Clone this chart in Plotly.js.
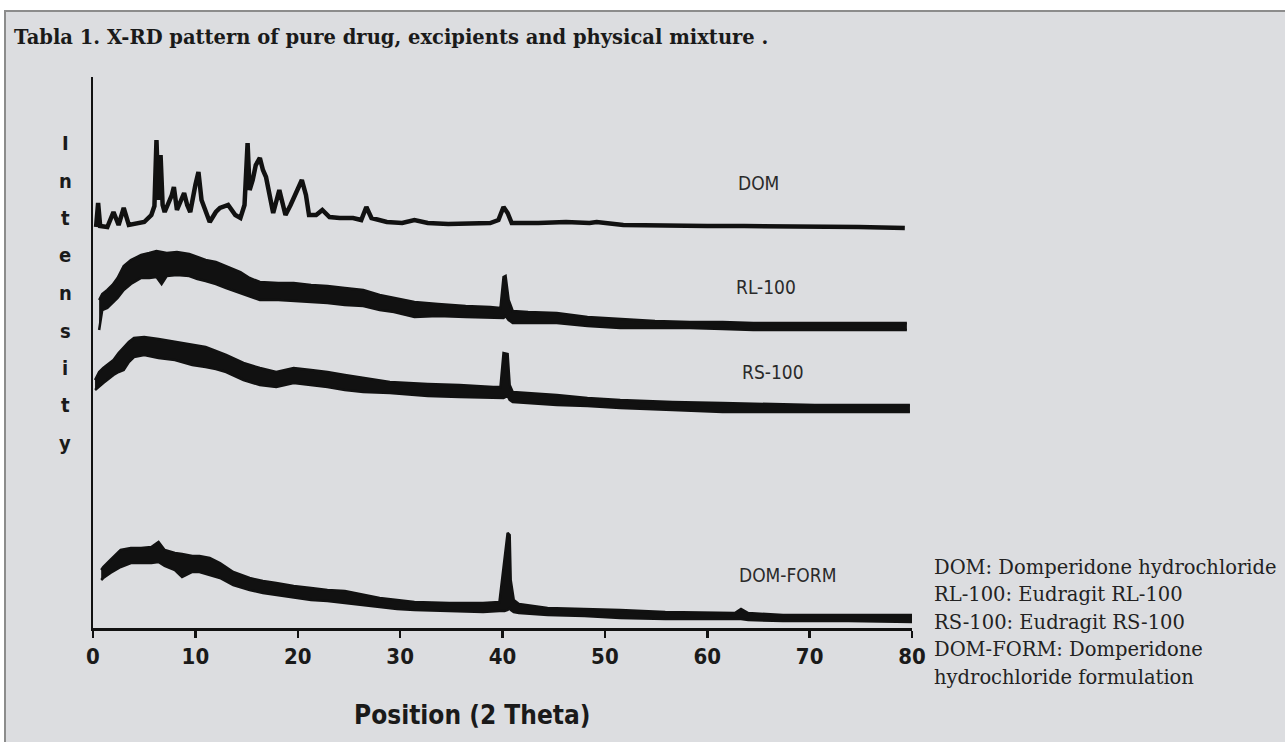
<!DOCTYPE html>
<html>
<head>
<meta charset="utf-8">
<script src="https://cdn.plot.ly/plotly-3.0.1.min.js"></script>
<style>html,body{margin:0;padding:0;background:#fff;}#chart{width:1285px;height:742px;}</style>
</head>
<body>
<div id="chart"></div>
<script>
// ---------- DATA (2θ in degrees, intensity in arbitrary units) ----------
const xTicks = [0, 10, 20, 30, 40, 50, 60, 70, 80];

// DOM (crystalline pure drug) – single trace
const dom2Theta = [0.3,0.5,0.7,1.4,2.0,2.5,3.0,3.5,5.0,5.7,6.0,6.2,6.4,6.6,6.8,7.0,7.7,7.9,8.2,8.6,8.9,9.2,9.5,10.0,10.3,10.6,11.0,11.4,12.0,12.4,13.2,13.9,14.4,14.8,15.1,15.3,15.6,15.9,16.3,16.6,16.9,17.2,17.6,18.2,18.5,18.8,19.3,19.8,20.4,20.8,21.1,21.8,22.4,23.1,24.1,25.4,26.2,26.7,27.2,28.7,30.2,31.4,32.7,34.7,36.8,38.8,39.6,40.1,40.5,40.9,43.5,46.2,48.5,49.2,51.8,55.9,60.0,63.6,66.8,70.8,74.8,79.3];
const domInt    = [401,425,402,401,416,403,420,403,406,413,422,488,428,473,423,416,433,441,418,428,435,423,416,443,456,428,418,406,416,420,423,413,410,423,485,438,448,463,470,458,451,433,415,438,423,413,423,435,448,433,413,413,418,411,410,410,408,421,410,406,405,408,405,404,404,405,408,421,415,405,405,406,405,406,403,402,402,402,402,402,401,400];

// RL-100 (amorphous) – upper / lower edge of the noisy band
const rl2Theta = [0.6,0.9,1.4,1.9,2.4,3.0,3.7,4.7,5.5,6.2,6.7,7.2,8.2,9.4,10.2,11.0,12.0,13.0,14.4,15.3,16.3,18.1,19.6,21.3,22.9,24.6,26.4,28.0,29.4,31.4,33.7,36.4,38.8,39.8,40.1,40.3,40.6,41.0,42.5,45.3,48.3,51.5,54.9,58.3,61.5,64.5,68.9,73.8,79.5];
const rlUpper  = [328,334,338,343,350,362,368,373,375,377,376,375,376,374,371,368,366,362,356,350,346,345,345,343,342,340,338,333,330,326,324,322,321,320,351,352,328,317,316,315,311,309,307,306,306,305,305,305,305];
const rlLower  = [298,318,320,325,330,338,344,350,350,351,344,352,353,352,349,347,344,340,335,332,328,328,327,326,325,323,322,318,316,311,312,311,310,310,310,312,308,305,305,305,302,300,300,300,299,298,298,298,298];

// RS-100 (amorphous)
const rs2Theta = [0.2,0.6,1.0,1.5,2.0,2.5,3.0,3.5,4.0,5.0,6.4,8.0,9.7,11.0,12.0,13.0,14.7,16.3,17.9,19.6,21.3,22.9,24.6,26.4,29.0,32.7,35.8,39.1,39.8,40.1,40.5,40.7,41.0,45.3,48.3,51.5,56.6,61.5,66.0,70.5,79.8];
const rsUpper  = [248,256,260,264,268,275,281,286,290,291,289,286,283,281,277,273,265,260,256,260,258,256,253,250,246,244,243,241,241,275,274,243,236,233,230,228,226,225,224,223,223];
const rsLower  = [238,242,245,249,253,256,258,266,271,273,270,268,263,261,259,256,248,243,241,245,243,241,238,236,235,232,231,230,230,230,232,228,226,223,222,220,218,216,216,216,216];

// DOM-FORM (formulation)
const form2Theta = [0.8,1.0,1.7,2.7,3.7,4.7,5.7,6.4,7.0,8.0,8.7,9.7,10.4,11.4,12.4,13.7,15.3,16.6,17.9,19.6,21.3,22.9,24.6,26.4,28.0,29.7,31.4,34.8,38.1,39.7,40.2,40.5,40.7,40.8,41.1,41.6,44.4,48.0,51.5,55.9,60.0,62.7,63.3,64.0,67.4,73.8,80.0];
const formUpper  = [58,61,68,78,80,80,81,86,78,75,74,72,72,70,65,56,50,47,45,42,40,38,37,33,30,28,26,25,25,26,68,95,93,48,28,24,20,19,18,16,15,15,19,15,13,13,13];
const formLower  = [48,50,55,61,65,65,65,66,62,58,51,56,56,53,50,43,38,35,33,30,28,27,25,23,21,19,18,17,16,17,17,18,20,18,16,15,13,12,10,9,9,9,9,8,7,7,6];

const seriesLabels = ['DOM', 'RL-100', 'RS-100', 'DOM-FORM'];
const legendLines = [
  'DOM: Domperidone hydrochloride',
  'RL-100: Eudragit RL-100',
  'RS-100: Eudragit RS-100',
  'DOM-FORM: Domperidone',
  'hydrochloride formulation'
];
const yTitleText = 'Intensity';
const xTitleText = 'Position (2 Theta)';
const chartTitle = 'Tabla 1. X-RD pattern of pure drug, excipients and physical mixture .';

// ---------- LAYOUT HELPERS (pixel -> paper for text placement) ----------
const W = 1285, H = 742;
const PL = 93, PR = 912, PT = 77, PB = 628;
const px = x => (x - PL) / (PR - PL);
const py = y => (PB - y) / (PB - PT);

const INK = '#111111';
const condensed = '"DejaVu Sans Condensed", "Liberation Sans Narrow", "Roboto Condensed", "Arial Narrow", sans-serif';
const serif = '"DejaVu Serif", "Liberation Serif", serif';

const traces = [
  {x: dom2Theta, y: domInt, type: 'scatter', mode: 'lines', line: {color: INK, width: 4.5}},
  {x: rl2Theta, y: rlLower, type: 'scatter', mode: 'lines', line: {color: INK, width: 2.5}},
  {x: rl2Theta, y: rlUpper, type: 'scatter', mode: 'lines', fill: 'tonexty', fillcolor: INK, line: {color: INK, width: 2.5}},
  {x: rs2Theta, y: rsLower, type: 'scatter', mode: 'lines', line: {color: INK, width: 2.5}},
  {x: rs2Theta, y: rsUpper, type: 'scatter', mode: 'lines', fill: 'tonexty', fillcolor: INK, line: {color: INK, width: 2.5}},
  {x: form2Theta, y: formLower, type: 'scatter', mode: 'lines', line: {color: INK, width: 2.5}},
  {x: form2Theta, y: formUpper, type: 'scatter', mode: 'lines', fill: 'tonexty', fillcolor: INK, line: {color: INK, width: 2.5}}
];

const annotations = [];
annotations.push({xref: 'paper', yref: 'paper', x: px(12), y: py(38), xanchor: 'left', yanchor: 'middle',
  text: '<b>' + chartTitle + '</b>', showarrow: false, font: {family: serif, size: 19.5, color: '#1a1a1a'}});

const labelPix = [[758, 183], [766, 287], [773, 372], [787, 575]];
seriesLabels.forEach((t, i) => annotations.push({xref: 'paper', yref: 'paper', x: px(labelPix[i][0]), y: py(labelPix[i][1]),
  xanchor: 'center', yanchor: 'middle', text: t, showarrow: false, font: {family: condensed, size: 19, color: '#2a2a2a'}}));

yTitleText.split('').forEach((ch, i) => annotations.push({xref: 'paper', yref: 'paper', x: px(65), y: py(143 + i * 37.5),
  xanchor: 'center', yanchor: 'middle', text: '<b>' + ch + '</b>', showarrow: false, font: {family: condensed, size: 20, color: '#1a1a1a'}}));

annotations.push({xref: 'paper', yref: 'paper', x: px(472), y: py(715), xanchor: 'center', yanchor: 'middle',
  text: '<b>' + xTitleText + '</b>', showarrow: false, font: {family: condensed, size: 26, color: '#1a1a1a'}});

legendLines.forEach((t, i) => annotations.push({xref: 'paper', yref: 'paper', x: px(932), y: py(567 + i * 27.5),
  xanchor: 'left', yanchor: 'middle', text: t, showarrow: false, font: {family: serif, size: 19.5, color: '#222'}}));

const layout = {
  width: W, height: H,
  margin: {l: PL, r: W - PR, t: PT, b: H - PB, pad: 0},
  paper_bgcolor: '#ffffff',
  plot_bgcolor: 'rgba(0,0,0,0)',
  showlegend: false,
  hovermode: false,
  xaxis: {range: [0, 80], tickvals: xTicks, ticktext: xTicks.map(String), showgrid: false, zeroline: false,
    showline: true, linecolor: INK, linewidth: 2.5, ticks: 'outside', ticklen: 7, tickwidth: 2.5, tickcolor: INK,
    tickfont: {family: condensed, size: 22, color: '#1a1a1a', weight: 'bold'}, fixedrange: true},
  yaxis: {range: [0, 551], showgrid: false, zeroline: false, showline: true, linecolor: INK, linewidth: 2.5,
    showticklabels: false, ticks: '', fixedrange: true},
  shapes: [
    {type: 'rect', xref: 'paper', yref: 'paper', x0: px(5), x1: px(1300), y0: py(760), y1: py(11),
      line: {color: '#8c8c8c', width: 2}, fillcolor: '#dcdde0', layer: 'below'}
  ],
  annotations: annotations
};

Plotly.newPlot('chart', traces, layout, {staticPlot: true, displayModeBar: false});
</script>
</body>
</html>
